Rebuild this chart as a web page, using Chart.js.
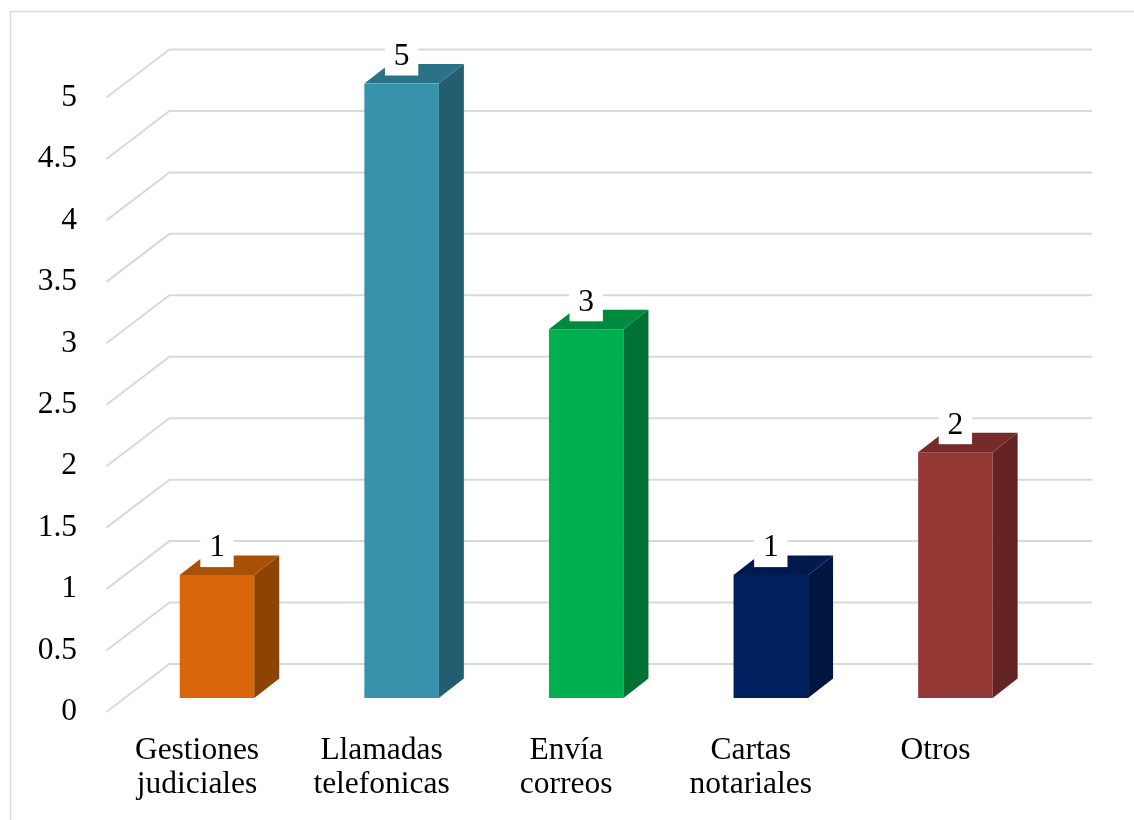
<!DOCTYPE html>
<html>
<head>
<meta charset="utf-8">
<script src="https://cdn.jsdelivr.net/npm/chart.js@4.4.0/dist/chart.umd.min.js"></script>
<style>
  html, body { margin: 0; padding: 0; background: #fff; }
  #c { display: block; }
</style>
</head>
<body>
<canvas id="c" width="1134" height="820"></canvas>
<script>
// ---- data ----
const categories = [
  ['Gestiones', 'judiciales'],
  ['Llamadas', 'telefonicas'],
  ['Envía', 'correos'],
  ['Cartas', 'notariales'],
  'Otros'
];
const values = [1, 5, 3, 1, 2];
const yMin = 0;
const yMax = 5;
const yStep = 0.5;

// ---- styles ----
const frontColors = ['#D9670A', '#3792AC', '#00B050', '#002060', '#953735'];
const topColors   = ['#A85006', '#2B7286', '#008A3F', '#001A4E', '#762B2A'];
const sideColors  = ['#8C4304', '#225E6F', '#007033', '#00163F', '#632322'];
const FONT = '"Liberation Serif", "Times New Roman", serif';
const FS = 31.5;
const GRID = '#d9d9d9';

// 3D geometry (relative to bar front plane)
const WALL_FRONT = { dx: -18.3, dy: 14 };
const WALL_BACK  = { dx: 44.7, dy: -34 };
const BAR_DEPTH  = { dx: 25, dy: -19.5 };

const plugin3d = {
  id: 'plugin3d',
  beforeDraw(chart) {
    const ctx = chart.ctx;
    ctx.save();
    ctx.strokeStyle = GRID;
    ctx.lineWidth = 1.5;
    ctx.strokeRect(10.5, 11.5, 1300, 1000);
    ctx.restore();
  },
  beforeDatasetsDraw(chart) {
    const ctx = chart.ctx;
    const ys = chart.scales.y;
    const ca = chart.chartArea;
    ctx.save();
    ctx.strokeStyle = GRID;
    ctx.lineWidth = 2;
    ys.ticks.forEach(t => {
      const y = ys.getPixelForValue(t.value);
      ctx.beginPath();
      ctx.moveTo(ca.left + WALL_FRONT.dx, y + WALL_FRONT.dy);
      ctx.lineTo(ca.left + WALL_BACK.dx, y + WALL_BACK.dy);
      ctx.lineTo(ca.right + WALL_BACK.dx, y + WALL_BACK.dy);
      ctx.stroke();
    });
    ctx.restore();
  },
  afterDatasetsDraw(chart) {
    const ctx = chart.ctx;
    const meta = chart.getDatasetMeta(0);
    ctx.save();
    meta.data.forEach((bar, i) => {
      const p = bar.getProps(['x', 'y', 'base', 'width'], true);
      const xl = p.x - p.width / 2, xr = p.x + p.width / 2;
      const top = p.y, base = p.base;
      // side face
      ctx.fillStyle = sideColors[i];
      ctx.beginPath();
      ctx.moveTo(xr, top);
      ctx.lineTo(xr + BAR_DEPTH.dx, top + BAR_DEPTH.dy);
      ctx.lineTo(xr + BAR_DEPTH.dx, base + BAR_DEPTH.dy);
      ctx.lineTo(xr, base);
      ctx.closePath();
      ctx.fill();
      // top face
      ctx.fillStyle = topColors[i];
      ctx.beginPath();
      ctx.moveTo(xl, top);
      ctx.lineTo(xl + BAR_DEPTH.dx, top + BAR_DEPTH.dy);
      ctx.lineTo(xr + BAR_DEPTH.dx, top + BAR_DEPTH.dy);
      ctx.lineTo(xr, top);
      ctx.closePath();
      ctx.fill();
    });
    // data labels
    ctx.font = FS + 'px ' + FONT;
    ctx.textAlign = 'center';
    ctx.textBaseline = 'alphabetic';
    meta.data.forEach((bar, i) => {
      const p = bar.getProps(['x', 'y'], true);
      const txt = String(values[i]);
      const w = ctx.measureText(txt).width + 17.6;
      const boxBottom = p.y - 8;
      const h = 43;
      ctx.fillStyle = '#ffffff';
      ctx.fillRect(p.x - w / 2, boxBottom - h, w, h);
      ctx.fillStyle = '#000000';
      ctx.fillText(txt, p.x, boxBottom - 10.7);
    });
    ctx.restore();
  }
};

new Chart(document.getElementById('c'), {
  type: 'bar',
  data: {
    labels: categories,
    datasets: [{
      data: values,
      backgroundColor: frontColors,
      borderWidth: 0,
      barPercentage: 0.4036,
      categoryPercentage: 1
    }]
  },
  options: {
    responsive: false,
    animation: false,
    devicePixelRatio: 1,
    layout: { padding: { top: 83.5, right: 86.3, bottom: 0, left: 0 } },
    plugins: { legend: { display: false }, tooltip: { enabled: false } },
    scales: {
      x: {
        offset: true,
        grid: { display: false, drawTicks: false },
        border: { display: false },
        ticks: {
          color: '#000',
          font: { family: FONT, size: FS, lineHeight: 1.057 },
          padding: 36.4,
          labelOffset: -20,
          maxRotation: 0,
          autoSkip: false
        },
        afterFit(scale) { scale.height = 122; }
      },
      y: {
        min: yMin,
        max: yMax,
        grid: { display: false, drawTicks: false },
        border: { display: false },
        ticks: {
          stepSize: yStep,
          color: '#000',
          font: { family: FONT, size: FS },
          padding: 47.7,
          labelOffset: 14,
          callback: (v) => String(Math.round(v * 10) / 10)
        },
        afterFit(scale) { scale.width = 124.7; }
      }
    }
  },
  plugins: [plugin3d]
});
</script>
</body>
</html>
